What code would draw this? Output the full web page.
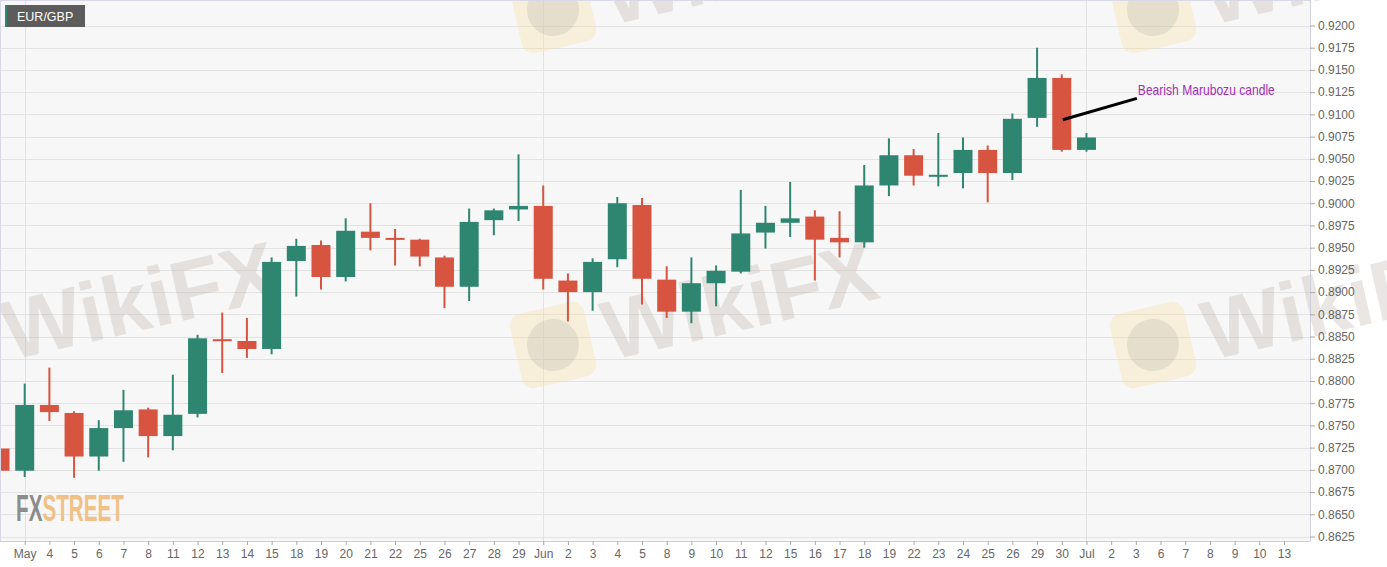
<!DOCTYPE html>
<html>
<head>
<meta charset="utf-8">
<script src="https://cdn.jsdelivr.net/npm/d3@7"></script>
<style>
  html, body { margin: 0; padding: 0; background: #ffffff; }
  svg { display: block; font-family: 'Liberation Sans', Arial, sans-serif; }
</style>
</head>
<body>
<div class="viz"></div>
<script>
// trading days on the horizontal axis, from april 30th to july 13th
const days = ['2020-04-30', '2020-05-01', '2020-05-04', '2020-05-05', '2020-05-06', '2020-05-07', '2020-05-08', '2020-05-11', '2020-05-12', '2020-05-13', '2020-05-14', '2020-05-15', '2020-05-18', '2020-05-19', '2020-05-20', '2020-05-21', '2020-05-22', '2020-05-25', '2020-05-26', '2020-05-27', '2020-05-28', '2020-05-29', '2020-06-01', '2020-06-02', '2020-06-03', '2020-06-04', '2020-06-05', '2020-06-08', '2020-06-09', '2020-06-10', '2020-06-11', '2020-06-12', '2020-06-15', '2020-06-16', '2020-06-17', '2020-06-18', '2020-06-19', '2020-06-22', '2020-06-23', '2020-06-24', '2020-06-25', '2020-06-26', '2020-06-29', '2020-06-30', '2020-07-01', '2020-07-02', '2020-07-03', '2020-07-06', '2020-07-07', '2020-07-08', '2020-07-09', '2020-07-10', '2020-07-13'];
// label shown under each day (the first one falls outside the frame)
const tickLabels = ['', 'May', '4', '5', '6', '7', '8', '11', '12', '13', '14', '15', '18', '19', '20', '21', '22', '25', '26', '27', '28', '29', 'Jun', '2', '3', '4', '5', '8', '9', '10', '11', '12', '15', '16', '17', '18', '19', '22', '23', '24', '25', '26', '29', '30', 'Jul', '2', '3', '6', '7', '8', '9', '10', '13'];
// days that start a month get a vertical line
const monthStarts = ['2020-05-01', '2020-06-01', '2020-07-01'];

// EUR/GBP daily prices, one value per candle (april 30th to july 1st)
const open = [0.8724, 0.8699, 0.8773, 0.8764, 0.8715, 0.8747, 0.8768, 0.8738, 0.8763, 0.8847, 0.8845, 0.8836, 0.8935, 0.8953, 0.8917, 0.8968, 0.8961, 0.8959, 0.8939, 0.8906, 0.8981, 0.8993, 0.8997, 0.8913, 0.8900, 0.8937, 0.8998, 0.8914, 0.8878, 0.8910, 0.8923, 0.8967, 0.8978, 0.8985, 0.8961, 0.8956, 0.9020, 0.9054, 0.9031, 0.9034, 0.9060, 0.9034, 0.9096, 0.9141, 0.9060];
const high = [0.8743, 0.8797, 0.8815, 0.8766, 0.8756, 0.8790, 0.8770, 0.8807, 0.8852, 0.8877, 0.8871, 0.8939, 0.8960, 0.8958, 0.8983, 0.9000, 0.8971, 0.8960, 0.8941, 0.8994, 0.8994, 0.9055, 0.9020, 0.8921, 0.8938, 0.9007, 0.9006, 0.8929, 0.8939, 0.8930, 0.9015, 0.8997, 0.9024, 0.8992, 0.8991, 0.9043, 0.9073, 0.9061, 0.9079, 0.9074, 0.9065, 0.9101, 0.9175, 0.9145, 0.9079];
const low = [0.8672, 0.8692, 0.8755, 0.8691, 0.8699, 0.8709, 0.8714, 0.8722, 0.8759, 0.8809, 0.8826, 0.8830, 0.8895, 0.8903, 0.8912, 0.8947, 0.8930, 0.8929, 0.8882, 0.8890, 0.8964, 0.8980, 0.8903, 0.8867, 0.8879, 0.8928, 0.8886, 0.8871, 0.8865, 0.8884, 0.8921, 0.8949, 0.8962, 0.8913, 0.8939, 0.8950, 0.9008, 0.9020, 0.9019, 0.9017, 0.9001, 0.9026, 0.9086, 0.9058, 0.9058];
const close = [0.8699, 0.8773, 0.8765, 0.8715, 0.8747, 0.8767, 0.8738, 0.8762, 0.8848, 0.8845, 0.8836, 0.8934, 0.8952, 0.8917, 0.8969, 0.8961, 0.8959, 0.8940, 0.8906, 0.8979, 0.8992, 0.8997, 0.8915, 0.8900, 0.8934, 0.9000, 0.8915, 0.8878, 0.8910, 0.8924, 0.8966, 0.8978, 0.8983, 0.8959, 0.8956, 0.9020, 0.9054, 0.9031, 0.9032, 0.9060, 0.9034, 0.9095, 0.9141, 0.9060, 0.9074];

// price levels printed on the right axis
const priceTicks = [0.8625, 0.865, 0.8675, 0.87, 0.8725, 0.875, 0.8775, 0.88, 0.8825, 0.885, 0.8875, 0.89, 0.8925, 0.895, 0.8975, 0.90, 0.9025, 0.905, 0.9075, 0.91, 0.9125, 0.915, 0.9175, 0.92];

// annotation pointing at the june 30th candle
const noteText = 'Bearish Marubozu candle';
const noteFrom = { day: '2020-06-30', price: 0.9094 };
const noteTo = { day: '2020-07-03', price: 0.9118 };

const symbol = 'EUR/GBP';

const svgWidth = 1387;
const svgHeight = 567;
// the plot frame: candles live inside, axes on the right and bottom
const frame = {
  right: 1310,
  bottom: 541,
};

const candles = open.map((o, i) => ({
  day: days[i],
  open: o,
  high: high[i],
  low: low[i],
  close: close[i],
}));

const xScale = d3
  .scalePoint()
  .domain(days)
  .range([0, 1284]);

const yScale = d3
  .scaleLinear()
  .domain([0.8625, 0.92])
  .range([536.5, 25.5]);

const step = xScale.step();
const bodyWidth = step * 0.77;

const green = '#2f8670';
const red = '#d65440';

const svg = d3
  .select('.viz')
  .append('svg')
  .attr('width', svgWidth)
  .attr('height', svgHeight)
  .attr('viewBox', `0 0 ${svgWidth} ${svgHeight}`);

// plot background
svg
  .append('rect')
  .attr('x', 0)
  .attr('y', 0)
  .attr('width', frame.right)
  .attr('height', frame.bottom)
  .attr('fill', '#f7f7f7');

// horizontal grid
svg
  .append('g')
  .attr('class', 'grid')
  .selectAll('line')
  .data(priceTicks)
  .enter()
  .append('line')
  .attr('x1', 0)
  .attr('x2', frame.right)
  .attr('y1', d => Math.round(yScale(d)) + 0.5)
  .attr('y2', d => Math.round(yScale(d)) + 0.5)
  .attr('stroke', '#e2e2e2');

// vertical lines at the start of each month
svg
  .append('g')
  .attr('class', 'months')
  .selectAll('line')
  .data(monthStarts)
  .enter()
  .append('line')
  .attr('x1', d => Math.round(xScale(d)) + 0.5)
  .attr('x2', d => Math.round(xScale(d)) + 0.5)
  .attr('y1', 0)
  .attr('y2', frame.bottom)
  .attr('stroke', '#e2e2e2');

// faded watermarks behind the candles
const marks = [
  [-47, 345], [553, 345], [1153, 345],
  [553, 10], [1153, 10],
];
const watermark = svg
  .append('g')
  .attr('class', 'watermark')
  .selectAll('g')
  .data(marks)
  .enter()
  .append('g')
  .attr('transform', ([x, y]) => `translate(${x} ${y}) rotate(-13)`);

watermark
  .append('rect')
  .attr('x', -38)
  .attr('y', -38)
  .attr('width', 76)
  .attr('height', 76)
  .attr('rx', 12)
  .attr('fill', '#f6dfa4')
  .attr('opacity', 0.35);

watermark
  .append('circle')
  .attr('r', 26)
  .attr('fill', '#bdb6b0')
  .attr('opacity', 0.3);

watermark
  .append('text')
  .attr('x', 52)
  .attr('y', 28)
  .attr('font-size', 84)
  .attr('font-weight', 'bold')
  .attr('fill', '#b8aea8')
  .attr('opacity', 0.3)
  .text('WikiFX');

// candlesticks
const groupCandles = svg
  .append('g')
  .attr('class', 'candles');

const candle = groupCandles
  .selectAll('g')
  .data(candles)
  .enter()
  .append('g')
  .attr('fill', d => (d.close >= d.open ? green : red))
  .attr('stroke', d => (d.close >= d.open ? green : red));

candle
  .append('line')
  .attr('x1', d => xScale(d.day))
  .attr('x2', d => xScale(d.day))
  .attr('y1', d => yScale(d.high))
  .attr('y2', d => yScale(d.low))
  .attr('stroke-width', 2);

candle
  .append('rect')
  .attr('x', d => xScale(d.day) - bodyWidth / 2)
  .attr('y', d => yScale(Math.max(d.open, d.close)))
  .attr('width', bodyWidth)
  .attr('height', d => Math.max(2, Math.abs(yScale(d.open) - yScale(d.close))))
  .attr('stroke', 'none');

// annotation
svg
  .append('line')
  .attr('x1', xScale(noteFrom.day) + 1)
  .attr('y1', yScale(noteFrom.price))
  .attr('x2', xScale(noteTo.day) + 1)
  .attr('y2', yScale(noteTo.price))
  .attr('stroke', '#000')
  .attr('stroke-width', 3);

svg
  .append('text')
  .attr('x', xScale(noteTo.day) + 2)
  .attr('y', yScale(noteTo.price) - 3)
  .attr('font-family', "'Liberation Sans Narrow', 'Arial Narrow', sans-serif")
  .attr('font-size', 15)
  .attr('fill', '#a52fb4')
  .attr('textLength', 137)
  .attr('lengthAdjust', 'spacingAndGlyphs')
  .text(noteText);

// frame borders on top and left
svg
  .append('line')
  .attr('x1', 0)
  .attr('x2', frame.right)
  .attr('y1', 0.5)
  .attr('y2', 0.5)
  .attr('stroke', '#d8d8e8');

svg
  .append('line')
  .attr('x1', 0.5)
  .attr('x2', 0.5)
  .attr('y1', 0)
  .attr('y2', frame.bottom)
  .attr('stroke', '#d8d8e8');

// right price axis
const yAxis = d3
  .axisRight(yScale)
  .tickValues(priceTicks)
  .tickSize(5)
  .tickPadding(3)
  .tickFormat(d3.format('.4f'));

const groupY = svg
  .append('g')
  .attr('class', 'axis y-axis')
  .attr('transform', `translate(${frame.right} 0)`)
  .call(yAxis);

groupY
  .select('.domain')
  .attr('d', `M0.5,0V${frame.bottom}`)
  .attr('stroke', '#cfd0dc');

// bottom date axis
const xAxis = d3
  .axisBottom(xScale)
  .tickValues(days.slice(1))
  .tickSize(4)
  .tickPadding(4)
  .tickFormat(d => tickLabels[days.indexOf(d)]);

const groupX = svg
  .append('g')
  .attr('class', 'axis x-axis')
  .attr('transform', `translate(0 ${frame.bottom})`)
  .call(xAxis);

groupX
  .select('.domain')
  .attr('d', `M0,0.5H${frame.right}`)
  .attr('stroke', '#cfd0dc');

d3
  .selectAll('.axis')
  .selectAll('.tick line')
  .attr('stroke', '#aaa');

d3
  .selectAll('.axis')
  .selectAll('text')
  .attr('font-family', "'Liberation Sans', Arial, sans-serif")
  .attr('font-size', 12)
  .attr('fill', '#666');

// symbol badge in the top left corner
const badge = svg
  .append('g')
  .attr('transform', 'translate(5 5)');

badge
  .append('rect')
  .attr('width', 80)
  .attr('height', 22)
  .attr('fill', '#5c5c5c');

badge
  .append('rect')
  .attr('width', 2)
  .attr('height', 22)
  .attr('fill', green);

badge
  .append('text')
  .attr('x', 12)
  .attr('y', 16)
  .attr('font-size', 12.5)
  .attr('fill', '#fff')
  .text(symbol);

// fxstreet logo in the bottom left corner
const logo = svg
  .append('text')
  .attr('x', 16)
  .attr('y', 521)
  .attr('font-family', "'Liberation Sans Narrow', 'Arial Narrow', sans-serif")
  .attr('font-weight', 'bold')
  .attr('font-size', 36)
  .attr('textLength', 108)
  .attr('lengthAdjust', 'spacingAndGlyphs');

logo
  .append('tspan')
  .attr('fill', '#8c8c8c')
  .text('FX');

logo
  .append('tspan')
  .attr('fill', '#efc187')
  .text('STREET');
</script>
</body>
</html>
